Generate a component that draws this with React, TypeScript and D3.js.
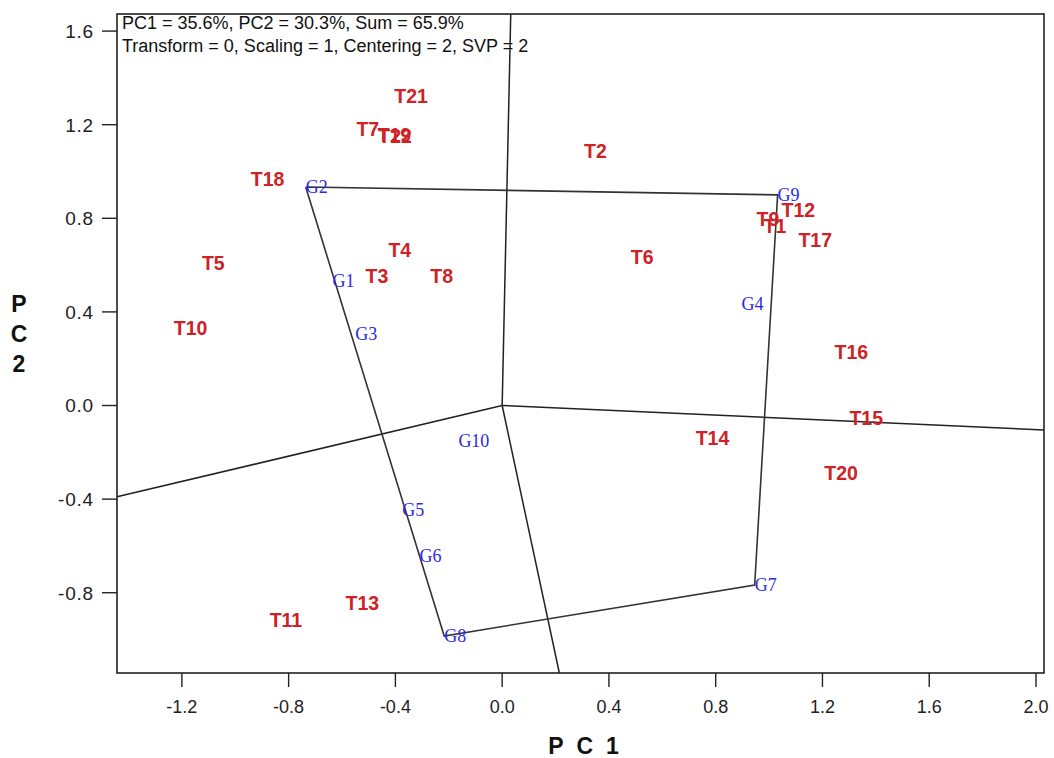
import React from "react";
import * as d3 from "d3";

const genotypes = ["G1", "G2", "G3", "G4", "G5", "G6", "G7", "G8", "G9", "G10"];
const genoPC1 = [-0.636, -0.736, -0.55, 0.897, -0.374, -0.31, 0.946, -0.217, 1.032, -0.164];
const genoPC2 = [0.532, 0.934, 0.306, 0.434, -0.447, -0.643, -0.767, -0.985, 0.9, -0.152];

const envs = ["T1", "T2", "T3", "T4", "T5", "T6", "T7", "T8", "T9", "T10", "T11", "T12", "T13", "T14", "T15", "T16", "T17", "T18", "T19", "T20", "T21", "T22"];
const envPC1 = [0.979, 0.307, -0.512, -0.426, -1.125, 0.482, -0.546, -0.269, 0.953, -1.23, -0.871, 1.047, -0.587, 0.725, 1.301, 1.245, 1.11, -0.942, -0.467, 1.207, -0.404, -0.464];
const envPC2 = [0.767, 1.088, 0.553, 0.665, 0.609, 0.635, 1.182, 0.553, 0.797, 0.331, -0.917, 0.835, -0.844, -0.139, -0.053, 0.229, 0.707, 0.968, 1.156, -0.288, 1.323, 1.152];

// polygon vertices (convex hull genotypes), in order
const hull = ["G2", "G9", "G7", "G8"];

const xTicks = [-1.2, -0.8, -0.4, 0.0, 0.4, 0.8, 1.2, 1.6, 2.0];
const yTicks = [-0.8, -0.4, 0.0, 0.4, 0.8, 1.2, 1.6];
const xDomain = [-1.443, 2.03];
const yDomain = [-1.143, 1.673];

const infoLines = [
  "PC1 = 35.6%, PC2 = 30.3%, Sum = 65.9%",
  "Transform = 0, Scaling = 1, Centering = 2, SVP = 2",
];

export default function App() {
  const left = 117, right = 1044, top = 14, bottom = 673;
  const x = d3.scaleLinear().domain(xDomain).range([left, right]);
  const y = d3.scaleLinear().domain(yDomain).range([bottom, top]);

  const hullPts = hull.map((g) => {
    const i = genotypes.indexOf(g);
    return [genoPC1[i], genoPC2[i]] as [number, number];
  });
  const polyLine = d3.line<[number, number]>().x((d) => x(d[0])).y((d) => y(d[1]));
  const closed = [...hullPts, hullPts[0]];

  // perpendicular rays from origin to each edge, extended to frame
  const rays = hullPts.map((p, k) => {
    const q = hullPts[(k + 1) % hullPts.length];
    const dx = q[0] - p[0], dy = q[1] - p[1];
    let px = -dy, py = dx;
    const dot = px * p[0] + py * p[1];
    if (dot < 0) { px = -px; py = -py; }
    let t = Infinity;
    if (px > 0) t = Math.min(t, xDomain[1] / px);
    if (px < 0) t = Math.min(t, xDomain[0] / px);
    if (py > 0) t = Math.min(t, yDomain[1] / py);
    if (py < 0) t = Math.min(t, yDomain[0] / py);
    return [[0, 0], [px * t, py * t]] as [number, number][];
  });

  const sans = "'Liberation Sans', Arial, sans-serif";
  return (
    <svg width={1054} height={758} style={{ position: "absolute", left: 0, top: 0, background: "#fff" }} fontFamily={sans}>
      <rect x={0} y={0} width={1054} height={758} fill="#fff" />
      {rays.map((r, i) => (
        <path key={"r" + i} d={polyLine(r) || ""} fill="none" stroke="#222" strokeWidth={1.5} />
      ))}
      <path d={polyLine(closed) || ""} fill="none" stroke="#333" strokeWidth={1.6} />
      <rect x={left} y={top} width={right - left} height={bottom - top} fill="none" stroke="#222" strokeWidth={1.6} />
      {xTicks.map((t) => (
        <g key={"xt" + t}>
          <line x1={x(t)} x2={x(t)} y1={bottom} y2={bottom + 14} stroke="#222" strokeWidth={1.4} />
          <text x={x(t)} y={bottom + 40} textAnchor="middle" fontSize={18} fill="#222">{t.toFixed(1)}</text>
        </g>
      ))}
      {yTicks.map((t) => (
        <g key={"yt" + t}>
          <line x1={left - 15} x2={left} y1={y(t)} y2={y(t)} stroke="#222" strokeWidth={1.4} />
          <text x={left - 23} y={y(t)} dy="0.36em" textAnchor="end" fontSize={19} fill="#222" letterSpacing={0.8}>{t.toFixed(1)}</text>
        </g>
      ))}
      <text x={590} y={754} textAnchor="middle" fontSize={23} fontWeight="bold" fill="#111" letterSpacing={13}>PC1</text>
      {["P", "C", "2"].map((c, i) => (
        <text key={"yt" + c} x={19} y={312 + i * 30} textAnchor="middle" fontSize={23} fontWeight="bold" fill="#111">{c}</text>
      ))}
      {infoLines.map((l, i) => (
        <text key={"il" + i} x={122} y={29 + i * 23} fontSize={18} fill="#111">{l}</text>
      ))}
      {envs.map((e, i) => (
        <text key={e} x={x(envPC1[i])} y={y(envPC2[i])} dy="0.35em" fontSize={19.5} fontWeight="bold" fill="#cf2226">{e}</text>
      ))}
      {genotypes.map((g, i) => (
        <text key={g} x={x(genoPC1[i])} y={y(genoPC2[i])} dy="0.35em" fontSize={18} fontFamily="'Liberation Serif', serif" fill="#2a2ae6">{g}</text>
      ))}
    </svg>
  );
}
